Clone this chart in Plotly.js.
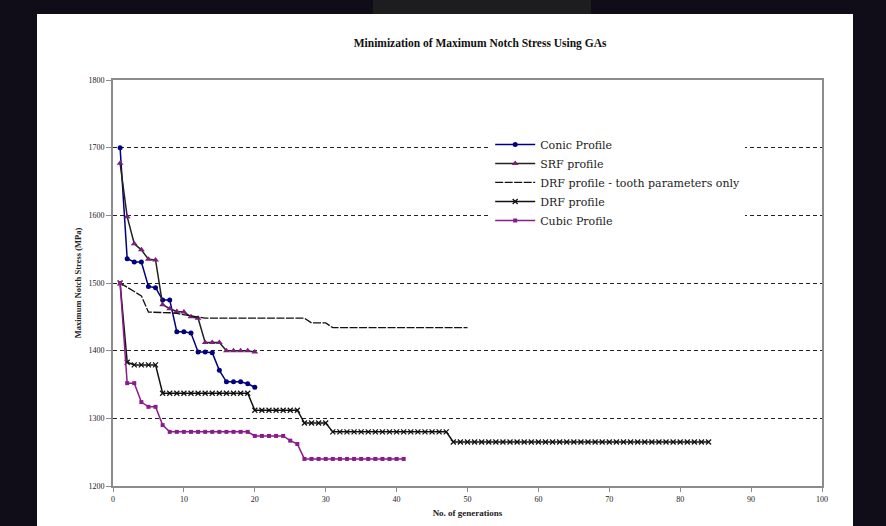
<!DOCTYPE html>
<html>
<head>
<meta charset="utf-8">
<script src="https://cdn.plot.ly/plotly-3.0.1.min.js"></script>
<style>
  html, body { margin: 0; padding: 0; background: #100d18; width: 886px; height: 526px; overflow: hidden; }
  #patch { position: absolute; left: 373px; top: 0; width: 218px; height: 14px; background: #1d1d1f; }
  #chart { position: absolute; left: 37px; top: 14px; width: 816px; height: 512px; background: #ffffff; }
</style>
</head>
<body>
<div id="patch"></div>
<div id="chart"></div>
<script>
// Values (Maximum Notch Stress, MPa, per generation)
const seriesNames = ["Conic Profile", "SRF profile", "DRF profile - tooth parameters only", "DRF profile", "Cubic Profile"];

const conic = [1700, 1536, 1531, 1531, 1495, 1493, 1475, 1475, 1428, 1428,
               1426, 1398, 1398, 1397, 1371, 1354, 1354, 1354, 1351, 1346];

const srf = [1677, 1598, 1558, 1549, 1535, 1534, 1468, 1462, 1458, 1457,
             1450, 1448, 1412, 1412, 1412, 1400, 1400, 1400, 1400, 1398];

const drfTooth = [1500, 1494, 1488, 1481, 1457, 1457, 1457, 1456, 1455, 1453,
                  1451, 1449, 1448, 1448, 1448, 1448, 1448, 1448, 1448, 1448,
                  1448, 1448, 1448, 1448, 1448, 1448, 1448, 1441, 1441, 1441,
                  1434, 1434, 1434, 1434, 1434, 1434, 1434, 1434, 1434, 1434,
                  1434, 1434, 1434, 1434, 1434, 1434, 1434, 1434, 1434, 1434];

const drf = [1500, 1383, 1379, 1379, 1379, 1379, 1337, 1337, 1337, 1337,
             1337, 1337, 1337, 1337, 1337, 1337, 1337, 1337, 1337, 1312,
             1312, 1312, 1312, 1312, 1312, 1312, 1293, 1293, 1293, 1293,
             1280, 1280, 1280, 1280, 1280, 1280, 1280, 1280, 1280, 1280,
             1280, 1280, 1280, 1280, 1280, 1280, 1280, 1265, 1265, 1265,
             1265, 1265, 1265, 1265, 1265, 1265, 1265, 1265, 1265, 1265,
             1265, 1265, 1265, 1265, 1265, 1265, 1265, 1265, 1265, 1265,
             1265, 1265, 1265, 1265, 1265, 1265, 1265, 1265, 1265, 1265,
             1265, 1265, 1265, 1265];

const cubic = [1500, 1352, 1352, 1324, 1317, 1317, 1290, 1280, 1280, 1280,
               1280, 1280, 1280, 1280, 1280, 1280, 1280, 1280, 1280, 1274,
               1274, 1274, 1274, 1274, 1267, 1262, 1240, 1240, 1240, 1240,
               1240, 1240, 1240, 1240, 1240, 1240, 1240, 1240, 1240, 1240, 1240];

const xTickVals = [0, 10, 20, 30, 40, 50, 60, 70, 80, 90, 100];
const yTickVals = [1200, 1300, 1400, 1500, 1600, 1700, 1800];

const gens = arr => arr.map((_, i) => i + 1);

const traces = [
  { name: seriesNames[0], x: gens(conic), y: conic, mode: 'lines+markers',
    line: { color: '#000080', width: 1.5 },
    marker: { symbol: 'circle', size: 5, color: '#000080' } },
  { name: seriesNames[1], x: gens(srf), y: srf, mode: 'lines+markers',
    line: { color: '#222222', width: 1.5 },
    marker: { symbol: 'triangle-up', size: 6, color: '#7a1f7a' } },
  { name: seriesNames[2], x: gens(drfTooth), y: drfTooth, mode: 'lines',
    line: { color: '#111111', width: 1.3, dash: '8px,1.5px' } },
  { name: seriesNames[3], x: gens(drf), y: drf, mode: 'lines+markers',
    line: { color: '#111111', width: 1.5 },
    marker: { symbol: 'x-thin-open', size: 5, line: { color: '#111111', width: 1.3 } } },
  { name: seriesNames[4], x: gens(cubic), y: cubic, mode: 'lines+markers',
    line: { color: '#8a1c8a', width: 1.5 },
    marker: { symbol: 'square', size: 4, color: '#8a1c8a' } }
];

const layout = {
  width: 816, height: 512,
  paper_bgcolor: '#ffffff', plot_bgcolor: '#ffffff',
  margin: { l: 76, r: 31, t: 66, b: 40 },
  title: { text: '<b>Minimization of Maximum Notch Stress Using GAs</b>',
           font: { family: 'Liberation Serif, serif', size: 11.5, color: '#111' },
           x: 0.543, xref: 'container', xanchor: 'center', y: 0.943, yref: 'container', yanchor: 'middle' },
  xaxis: {
    range: [0, 100], tickvals: xTickVals, ticktext: xTickVals.map(String),
    showgrid: false, zeroline: false,
    showline: true, linecolor: '#8c8c8c', linewidth: 2, mirror: true,
    ticks: 'outside', ticklen: 4, tickcolor: '#8c8c8c', tickwidth: 1,
    tickfont: { family: 'Liberation Serif, serif', size: 8, color: '#222' },
    title: { text: '<b>No. of generations</b>', font: { family: 'Liberation Serif, serif', size: 9, color: '#222' }, standoff: 7 }
  },
  yaxis: {
    range: [1200, 1800], tickvals: yTickVals, ticktext: yTickVals.map(String),
    showgrid: true, gridcolor: '#222', gridwidth: 1, griddash: '4px,3px',
    zeroline: false,
    showline: true, linecolor: '#8c8c8c', linewidth: 2, mirror: true,
    ticks: 'outside', ticklen: 5, tickcolor: '#8c8c8c', tickwidth: 1,
    tickfont: { family: 'Liberation Serif, serif', size: 8, color: '#222' },
    title: { text: '<b>Maximum Notch Stress (MPa)</b>', font: { family: 'Liberation Serif, serif', size: 8.5, color: '#222' }, standoff: 5 }
  },
  legend: {
    x: 0.532, xanchor: 'left', y: 0.877, yanchor: 'top',
    bgcolor: '#ffffff', borderwidth: 0,
    font: { family: 'DejaVu Serif, serif', size: 11, color: '#222' },
    itemwidth: 40, tracegroupgap: 0
  },
  showlegend: true
};

Plotly.newPlot('chart', traces, layout, { staticPlot: true, displayModeBar: false });
</script>
</body>
</html>
